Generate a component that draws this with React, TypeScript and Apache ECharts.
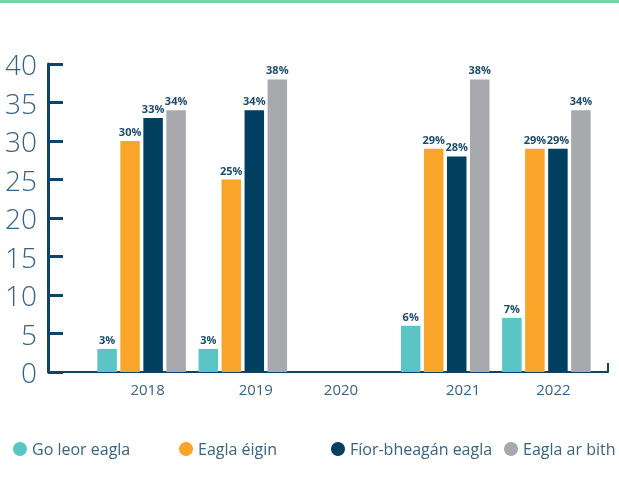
import React, { useEffect, useRef } from "react";
import * as echarts from "echarts";

const years = ["2018", "2019", "2020", "2021", "2022"];
const seriesNames = ["Go leor eagla", "Eagla éigin", "Fíor-bheagán eagla", "Eagla ar bith"];
const goLeor = [3, 3, 0, 6, 7];
const eaglaEigin = [30, 25, 0, 29, 29];
const fiorBheagan = [33, 34, 0, 28, 29];
const arBith = [34, 38, 0, 38, 34];
const yTicks = { min: 0, max: 40, interval: 5 };

const colors = ["#5bc5c6", "#f9a52a", "#003f60", "#a8a9ad"];
const textColor = "#3a6281";
const axisColor = "#0e4466";
const FONT = "'Open Sans', 'Noto Sans', sans-serif";

export default function App() {
  const ref = useRef<HTMLDivElement>(null);
  useEffect(() => {
    if (!ref.current) return;
    const chart = echarts.init(ref.current, undefined, { renderer: "svg" });
    const values = [goLeor, eaglaEigin, fiorBheagan, arBith];
    const legendLefts = [13, 179, 331, 504];
    const labelPads = [
      [0, 0, 0, 12],
      [0, 0, 0, 26],
      [0, 6, 0, 0],
      [0, 0, 0, 36],
      [0, 0, 0, 14],
    ];
    const rich: any = {};
    labelPads.forEach((p, i) => {
      rich["l" + i] = { padding: p, fontSize: 15, color: textColor, fontFamily: FONT };
    });
    const gridTop = 64;
    const gridBottom = 107;
    const gridLeft = 91;
    const axisX = 48;
    chart.setOption({
      animation: false,
      textStyle: { fontFamily: FONT },
      graphic: [
        { type: "rect", left: 0, top: 0, shape: { width: 619, height: 3 }, style: { fill: "#7ccfa7" } },
      ],
      legend: seriesNames.map((n, i) => ({
        data: [n],
        left: legendLefts[i],
        top: 441,
        padding: 0,
        icon: "circle",
        itemWidth: 14,
        itemHeight: 14,
        textStyle: { fontSize: 16, color: textColor, fontFamily: FONT },
      })),
      grid: [
        { left: gridLeft, right: 22, top: gridTop, bottom: gridBottom },
        { left: axisX, right: 11, top: gridTop, bottom: gridBottom },
      ],
      xAxis: [
        {
          type: "category",
          gridIndex: 0,
          data: years,
          axisLine: { show: false },
          axisTick: { show: false },
          axisLabel: {
            fontSize: 15,
            color: textColor,
            margin: 9,
            fontFamily: FONT,
            formatter: (v: string, i: number) => `{l${i}|${v}}`,
            rich,
          },
        },
        {
          type: "value",
          gridIndex: 1,
          min: 0,
          max: 1,
          axisLine: { show: true, lineStyle: { color: axisColor, width: 2 } },
          axisTick: { show: true, inside: true, length: 9, customValues: [1], lineStyle: { color: axisColor, width: 2 } },
          axisLabel: { show: false },
          splitLine: { show: false },
        },
      ],
      yAxis: [
        {
          type: "value",
          gridIndex: 0,
          min: yTicks.min,
          max: yTicks.max,
          interval: yTicks.interval,
          offset: gridLeft - axisX,
          axisLine: { show: true, lineStyle: { color: axisColor, width: 3 } },
          axisTick: { show: true, inside: true, length: 15, lineStyle: { color: axisColor, width: 3 } },
          axisLabel: { fontSize: 28, fontWeight: 300, color: textColor, margin: 11, fontFamily: FONT },
          splitLine: { show: false },
        },
        { type: "value", gridIndex: 1, show: false, min: 0, max: 1 },
      ],
      series: seriesNames.map((n, i) => ({
        name: n,
        type: "bar",
        xAxisIndex: 0,
        yAxisIndex: 0,
        data: values[i],
        barWidth: 19.5,
        barGap: "18%",
        itemStyle: { color: colors[i] },
        label: {
          show: true,
          position: "top",
          distance: 4,
          fontSize: 11,
          fontWeight: "bold",
          color: "#1d4b6b",
          fontFamily: FONT,
          formatter: (p: any) => (p.value ? p.value + "%" : ""),
        },
      })),
    });
    return () => chart.dispose();
  }, []);
  return <div ref={ref} style={{ position: "fixed", left: 0, top: 0, width: 619, height: 479 }} />;
}
